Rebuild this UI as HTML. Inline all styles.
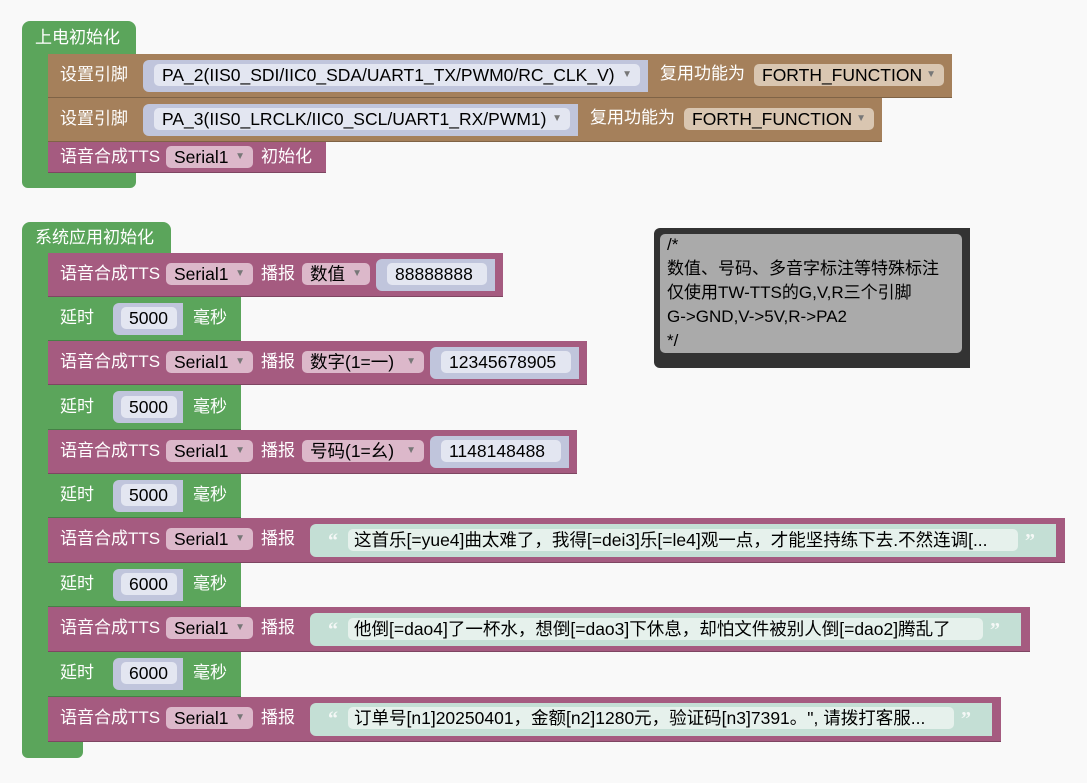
<!DOCTYPE html>
<html><head><meta charset="utf-8"><style>
body{margin:0;width:1087px;height:783px;background:#f9f9f9;position:relative;overflow:hidden;font-family:"Liberation Sans","Noto Sans CJK SC",sans-serif;font-size:17px}
div{position:absolute;box-sizing:border-box}
.g{background:#5ba55b}
.br{background:#a5805b;border-bottom:1px solid #7f6346}
.pu{background:#a55b80;border-bottom:1px solid #7e4662}
.gr{background:#5ba55b;border-bottom:1px solid #468046}
.t{color:#fff;line-height:20px;white-space:nowrap;font-size:17px}
.k{color:#000;line-height:22px;white-space:nowrap;padding-left:8px;border-radius:5px;font-size:17.5px;overflow:hidden}
.slot{background:#c0c5dc}
.sslot{background:#c4dfd5}
.pl{background:#e3e6f1}
.sp{background:#e6f1ec}
.dd{background:#dcb8ca}
.bd{background:#d9c6b1}
.ar{font-size:10px;color:#777;position:absolute;right:8px;top:0}
.q{color:#f4f8f6;font-size:20px;font-weight:bold;line-height:22px;font-family:"Liberation Serif",serif}
</style></head><body>

<!-- hat 1 -->
<div class="g" style="left:22px;top:21px;width:114px;height:34px;border-radius:8px 8px 0 0"></div>
<div class="g" style="left:22px;top:50px;width:27px;height:138px;border-radius:0 0 0 8px"></div>
<div class="g" style="left:22px;top:172px;width:114px;height:16px;border-radius:0 0 6px 6px"></div>
<div class="t" style="left:35px;top:28px">上电初始化</div>

<div class="br" style="left:48px;top:54px;width:904px;height:44px"></div>
<div class="t" style="left:60px;top:65px">设置引脚</div>
<div class="slot" style="left:143px;top:60px;width:505px;height:32px;border-radius:6px 0 0 6px"></div>
<div class="k pl" style="left:154px;top:64px;width:486px">PA_2(IIS0_SDI/IIC0_SDA/UART1_TX/PWM0/RC_CLK_V)<span class="ar">▼</span></div>
<div class="t" style="left:660px;top:64px">复用功能为</div>
<div class="k bd" style="left:754px;top:64px;width:190px">FORTH_FUNCTION<span class="ar">▼</span></div>

<div class="br" style="left:48px;top:98px;width:834px;height:44px"></div>
<div class="t" style="left:60px;top:109px">设置引脚</div>
<div class="slot" style="left:143px;top:104px;width:435px;height:32px;border-radius:6px 0 0 6px"></div>
<div class="k pl" style="left:154px;top:108px;width:416px">PA_3(IIS0_LRCLK/IIC0_SCL/UART1_RX/PWM1)<span class="ar">▼</span></div>
<div class="t" style="left:590px;top:108px">复用功能为</div>
<div class="k bd" style="left:684px;top:108px;width:190px">FORTH_FUNCTION<span class="ar">▼</span></div>

<div class="pu" style="left:48px;top:142px;width:278px;height:31px"></div>
<div class="t" style="left:60px;top:147px">语音合成TTS</div>
<div class="k dd" style="left:166px;top:146px;width:87px">Serial1<span class="ar">▼</span></div>
<div class="t" style="left:261px;top:147px">初始化</div>

<!-- hat 2 -->
<div class="g" style="left:22px;top:222px;width:149px;height:34px;border-radius:8px 8px 0 0"></div>
<div class="g" style="left:22px;top:250px;width:27px;height:508px;border-radius:0 0 0 8px"></div>
<div class="g" style="left:22px;top:742px;width:61px;height:16px;border-radius:0 0 6px 6px"></div>
<div class="t" style="left:35px;top:228px">系统应用初始化</div>

<div class="pu" style="left:48px;top:253px;width:455px;height:44px"></div>
<div class="t" style="left:60px;top:264px">语音合成TTS</div>
<div class="k dd" style="left:166px;top:263px;width:87px">Serial1<span class="ar">▼</span></div>
<div class="t" style="left:261px;top:264px">播报</div>
<div class="k dd" style="left:302px;top:263px;width:68px">数值<span class="ar">▼</span></div>
<div class="slot" style="left:376px;top:259px;width:119px;height:32px;border-radius:6px 0 0 6px"></div>
<div class="k pl" style="left:387px;top:263px;width:100px">88888888</div>

<div class="gr" style="left:48px;top:297px;width:193px;height:44px"></div>
<div class="t" style="left:60px;top:308px">延时</div>
<div class="slot" style="left:113px;top:303px;width:70px;height:32px;border-radius:6px 0 0 6px"></div>
<div class="k pl" style="left:121px;top:307px;width:56px">5000</div>
<div class="t" style="left:193px;top:308px">毫秒</div>

<div class="pu" style="left:48px;top:341px;width:539px;height:44px"></div>
<div class="t" style="left:60px;top:352px">语音合成TTS</div>
<div class="k dd" style="left:166px;top:351px;width:87px">Serial1<span class="ar">▼</span></div>
<div class="t" style="left:261px;top:352px">播报</div>
<div class="k dd" style="left:302px;top:351px;width:122px">数字(1=一)<span class="ar">▼</span></div>
<div class="slot" style="left:430px;top:347px;width:149px;height:32px;border-radius:6px 0 0 6px"></div>
<div class="k pl" style="left:441px;top:351px;width:130px">12345678905</div>

<div class="gr" style="left:48px;top:385px;width:193px;height:45px"></div>
<div class="t" style="left:60px;top:397px">延时</div>
<div class="slot" style="left:113px;top:391px;width:70px;height:32px;border-radius:6px 0 0 6px"></div>
<div class="k pl" style="left:121px;top:396px;width:56px">5000</div>
<div class="t" style="left:193px;top:397px">毫秒</div>

<div class="pu" style="left:48px;top:430px;width:529px;height:44px"></div>
<div class="t" style="left:60px;top:441px">语音合成TTS</div>
<div class="k dd" style="left:166px;top:440px;width:87px">Serial1<span class="ar">▼</span></div>
<div class="t" style="left:261px;top:441px">播报</div>
<div class="k dd" style="left:302px;top:440px;width:122px">号码(1=幺)<span class="ar">▼</span></div>
<div class="slot" style="left:430px;top:436px;width:139px;height:32px;border-radius:6px 0 0 6px"></div>
<div class="k pl" style="left:441px;top:440px;width:120px">1148148488</div>

<div class="gr" style="left:48px;top:474px;width:193px;height:44px"></div>
<div class="t" style="left:60px;top:485px">延时</div>
<div class="slot" style="left:113px;top:480px;width:70px;height:32px;border-radius:6px 0 0 6px"></div>
<div class="k pl" style="left:121px;top:484px;width:56px">5000</div>
<div class="t" style="left:193px;top:485px">毫秒</div>

<div class="pu" style="left:48px;top:518px;width:1017px;height:45px"></div>
<div class="t" style="left:60px;top:529px">语音合成TTS</div>
<div class="k dd" style="left:166px;top:528px;width:87px">Serial1<span class="ar">▼</span></div>
<div class="t" style="left:261px;top:529px">播报</div>
<div class="sslot" style="left:310px;top:524px;width:746px;height:33px;border-radius:6px 0 0 6px"></div>
<div class="q" style="left:328px;top:530px">“</div>
<div class="k sp" style="left:348px;top:529px;width:670px;padding-left:6px">这首乐[=yue4]曲太难了，我得[=dei3]乐[=le4]观一点，才能坚持练下去.不然连调[...</div>
<div class="q" style="left:1025px;top:530px">”</div>

<div class="gr" style="left:48px;top:563px;width:193px;height:44px"></div>
<div class="t" style="left:60px;top:574px">延时</div>
<div class="slot" style="left:113px;top:569px;width:70px;height:32px;border-radius:6px 0 0 6px"></div>
<div class="k pl" style="left:121px;top:573px;width:56px">6000</div>
<div class="t" style="left:193px;top:574px">毫秒</div>

<div class="pu" style="left:48px;top:607px;width:982px;height:45px"></div>
<div class="t" style="left:60px;top:618px">语音合成TTS</div>
<div class="k dd" style="left:166px;top:617px;width:87px">Serial1<span class="ar">▼</span></div>
<div class="t" style="left:261px;top:618px">播报</div>
<div class="sslot" style="left:310px;top:613px;width:711px;height:33px;border-radius:6px 0 0 6px"></div>
<div class="q" style="left:328px;top:619px">“</div>
<div class="k sp" style="left:348px;top:618px;width:635px;padding-left:6px">他倒[=dao4]了一杯水，想倒[=dao3]下休息，却怕文件被别人倒[=dao2]腾乱了</div>
<div class="q" style="left:990px;top:619px">”</div>

<div class="gr" style="left:48px;top:652px;width:193px;height:45px"></div>
<div class="t" style="left:60px;top:663px">延时</div>
<div class="slot" style="left:113px;top:658px;width:70px;height:32px;border-radius:6px 0 0 6px"></div>
<div class="k pl" style="left:121px;top:662px;width:56px">6000</div>
<div class="t" style="left:193px;top:663px">毫秒</div>

<div class="pu" style="left:48px;top:697px;width:953px;height:45px"></div>
<div class="t" style="left:60px;top:708px">语音合成TTS</div>
<div class="k dd" style="left:166px;top:707px;width:87px">Serial1<span class="ar">▼</span></div>
<div class="t" style="left:261px;top:708px">播报</div>
<div class="sslot" style="left:310px;top:703px;width:682px;height:33px;border-radius:6px 0 0 6px"></div>
<div class="q" style="left:328px;top:708px">“</div>
<div class="k sp" style="left:348px;top:707px;width:606px;padding-left:6px">订单号[n1]20250401，金额[n2]1280元，验证码[n3]7391。", 请拨打客服...</div>
<div class="q" style="left:961px;top:708px">”</div>

<div style="left:654px;top:228px;width:316px;height:140px;background:#333;border-radius:6px 0 0 6px"></div>
<div style="left:660px;top:234px;width:302px;height:119px;background:#aaa;border-radius:5px"></div>
<div style="left:667px;top:233px;color:#000;font-size:17px;line-height:24px;white-space:pre">/*
数值、号码、多音字标注等特殊标注
仅使用TW-TTS的G,V,R三个引脚
G->GND,V->5V,R->PA2
*/</div>
</body></html>
